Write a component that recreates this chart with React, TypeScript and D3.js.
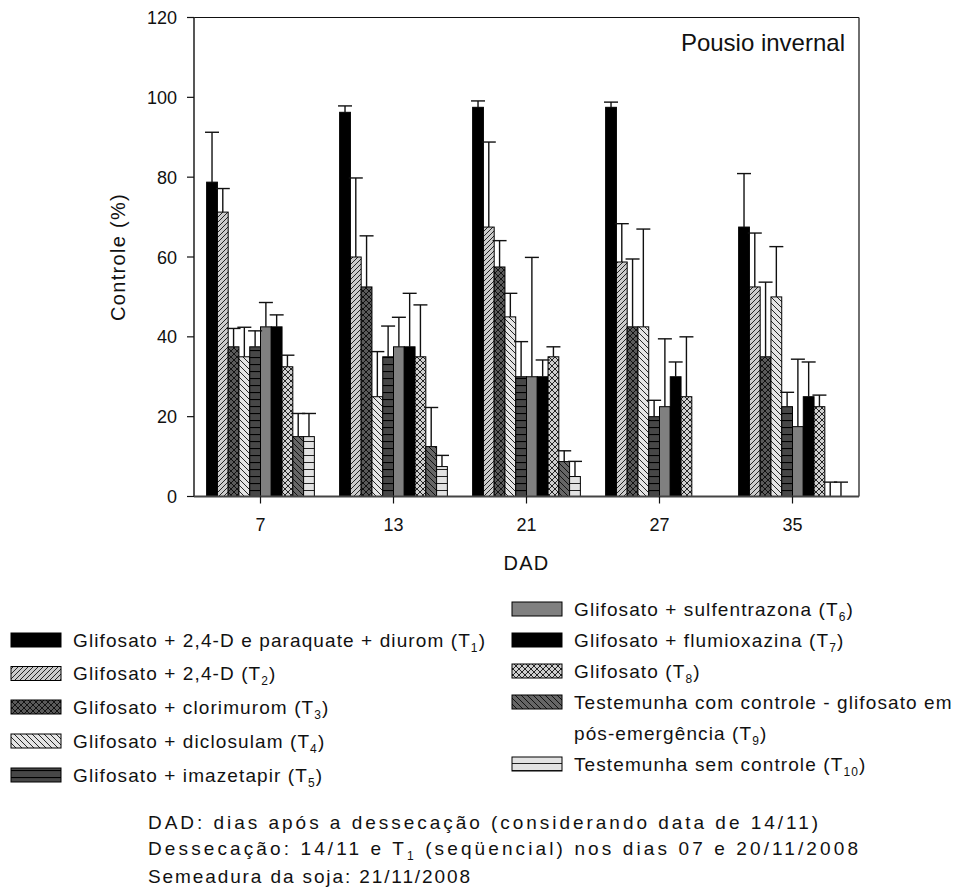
import React from "react";
import * as d3 from "d3";

// Days after desiccation (DAD)
const days = ["7", "13", "21", "27", "35"];

// Treatment labels (main text + subscript index)
const treatmentLabels = [
  "Glifosato + 2,4-D e paraquate + diurom",
  "Glifosato + 2,4-D",
  "Glifosato + clorimurom",
  "Glifosato + diclosulam",
  "Glifosato + imazetapir",
  "Glifosato + sulfentrazona",
  "Glifosato + flumioxazina",
  "Glifosato",
  "Testemunha com controle - glifosato em|pós-emergência",
  "Testemunha sem controle",
];
const treatmentCodes = ["1", "2", "3", "4", "5", "6", "7", "8", "9", "10"];

// Mean control (%) per treatment, one value per DAD
const meanT1 = [78.75, 96.25, 97.5, 97.5, 67.5];
const meanT2 = [71.25, 60, 67.5, 58.75, 52.5];
const meanT3 = [37.5, 52.5, 57.5, 42.5, 35];
const meanT4 = [35, 25, 45, 42.5, 50];
const meanT5 = [37.5, 35, 30, 20, 22.5];
const meanT6 = [42.5, 37.5, 30, 22.5, 17.5];
const meanT7 = [42.5, 37.5, 30, 30, 25];
const meanT8 = [32.5, 35, 35, 25, 22.5];
const meanT9 = [15, 12.5, 8.75, null, 0];
const meanT10 = [15, 7.5, 5, null, 0];

// Standard deviation (upper error bar) per treatment
const sdT1 = [12.5, 1.6, 1.6, 1.3, 13.4];
const sdT2 = [5.9, 19.8, 21.3, 9.6, 13.5];
const sdT3 = [4.6, 12.8, 6.6, 17.0, 18.7];
const sdT4 = [7.4, 11.3, 5.9, 24.5, 12.6];
const sdT5 = [4.0, 7.7, 8.8, 4.1, 3.6];
const sdT6 = [6.1, 7.4, 29.9, 17.0, 16.9];
const sdT7 = [3.0, 13.4, 4.2, 3.7, 8.7];
const sdT8 = [2.9, 13.0, 2.5, 15.0, 2.9];
const sdT9 = [5.8, 9.8, 2.7, null, 3.6];
const sdT10 = [5.8, 2.8, 3.8, null, 3.6];

const yTicks = [0, 20, 40, 60, 80, 100, 120];

const means = [meanT1, meanT2, meanT3, meanT4, meanT5, meanT6, meanT7, meanT8, meanT9, meanT10];
const sds = [sdT1, sdT2, sdT3, sdT4, sdT5, sdT6, sdT7, sdT8, sdT9, sdT10];

const FONT = "'Liberation Sans', Arial, Helvetica, sans-serif";

const fills = [
  "#000000",
  "url(#pT2)",
  "url(#pT3)",
  "url(#pT4)",
  "url(#pT5)",
  "#808080",
  "#000000",
  "url(#pT8)",
  "url(#pT9)",
  "url(#pT10)",
];

function Patterns() {
  return (
    <defs>
      <pattern id="pT2" patternUnits="userSpaceOnUse" width={5} height={5}>
        <rect width={5} height={5} fill="#cccccc" />
        <path d="M0,5 L5,0 M-1,1 L1,-1 M4,6 L6,4" stroke="#111" strokeWidth={0.9} />
      </pattern>
      <pattern id="pT3" patternUnits="userSpaceOnUse" width={6} height={6}>
        <rect width={6} height={6} fill="#5a5a5a" />
        <path d="M0,0 L6,6 M0,6 L6,0" stroke="#111" strokeWidth={1} />
      </pattern>
      <pattern id="pT4" patternUnits="userSpaceOnUse" width={6} height={6}>
        <rect width={6} height={6} fill="#e4e4e4" />
        <path d="M0,0 L6,6 M-1,5 L1,7 M5,-1 L7,1" stroke="#111" strokeWidth={0.9} />
      </pattern>
      <pattern id="pT5" patternUnits="userSpaceOnUse" width={7} height={7}>
        <rect width={7} height={7} fill="#474747" />
        <path d="M0,0.5 L7,0.5" stroke="#000" strokeWidth={1.2} />
      </pattern>
      <pattern id="pT8" patternUnits="userSpaceOnUse" width={6} height={6}>
        <rect width={6} height={6} fill="#cfcfcf" />
        <path d="M0,0 L6,6 M0,6 L6,0" stroke="#111" strokeWidth={0.9} />
      </pattern>
      <pattern id="pT9" patternUnits="userSpaceOnUse" width={6} height={6}>
        <rect width={6} height={6} fill="#666666" />
        <path d="M0,0 L6,6 M-1,5 L1,7 M5,-1 L7,1" stroke="#111" strokeWidth={1} />
      </pattern>
      <pattern id="pT10" patternUnits="userSpaceOnUse" width={7} height={7}>
        <rect width={7} height={7} fill="#e2e2e2" />
        <path d="M0,0.5 L7,0.5" stroke="#222" strokeWidth={1} />
      </pattern>
    </defs>
  );
}

function LegendLabel({ x, y, text, code }: { x: number; y: number; text: string; code: string }) {
  const parts = text.split("|");
  const style = { fontFamily: FONT, fontSize: 19, letterSpacing: 1.1, fill: "#111" } as const;
  return (
    <g>
      {parts.map((p, i) => {
        const last = i === parts.length - 1;
        return (
          <text key={i} x={x} y={y + i * 31} style={style}>
            {last ? p + " (T" : p}
            {last && (
              <tspan dy={5} fontSize={12}>
                {code}
              </tspan>
            )}
            {last && <tspan dy={-5}>)</tspan>}
          </text>
        );
      })}
    </g>
  );
}

export default function App() {
  const W = 971;
  const H = 893;
  const left = 194;
  const right = 859;
  const top = 17.5;
  const bottom = 496.5;

  const x0 = d3.scaleBand<string>().domain(days).range([left, right]).paddingInner(0.19).paddingOuter(0.095);
  const x1 = d3
    .scaleBand<number>()
    .domain(d3.range(means.length))
    .range([0, x0.bandwidth()]);
  const y = d3.scaleLinear().domain([0, 120]).range([bottom, top]);

  const bars: React.ReactNode[] = [];
  const errs: React.ReactNode[] = [];
  means.forEach((series, t) => {
    series.forEach((v, d) => {
      if (v === null) return;
      const bx = (x0(days[d]) as number) + (x1(t) as number);
      const bw = x1.bandwidth();
      bars.push(
        <rect
          key={`b${t}-${d}`}
          x={bx}
          y={y(v)}
          width={bw}
          height={y(0) - y(v)}
          fill={fills[t]}
          stroke="#000"
          strokeWidth={1}
        />
      );
      const s = sds[t][d];
      if (s !== null && s > 0) {
        const cx = bx + bw / 2;
        errs.push(
          <g key={`e${t}-${d}`} stroke="#111" strokeWidth={1.4}>
            <line x1={cx} x2={cx} y1={y(v)} y2={y(v + s)} />
            <line x1={cx - 7} x2={cx + 7} y1={y(v + s)} y2={y(v + s)} />
          </g>
        );
      }
    });
  });

  const leftRows = [640, 673.5, 707, 741, 775];
  const rightRows = [609, 640, 671, 702, 764];

  const legend = treatmentLabels.map((lab, i) => {
    const col = i < 5 ? 0 : 1;
    const row = i % 5;
    const cy = col === 0 ? leftRows[row] : rightRows[row];
    const sx = col === 0 ? 11 : 512;
    const tx = col === 0 ? 73 : 574;
    return (
      <g key={`l${i}`}>
        <rect x={sx} y={cy - 7} width={50} height={14} fill={fills[i]} stroke="#000" strokeWidth={1} />
        <LegendLabel x={tx} y={cy + 6.5} text={lab} code={treatmentCodes[i]} />
      </g>
    );
  });

  const tickStyle = { fontFamily: FONT, fontSize: 18, fill: "#111" } as const;
  const titleStyle = { fontFamily: FONT, fontSize: 20, fill: "#111", letterSpacing: 1.3 } as const;
  const noteStyle = { fontFamily: FONT, fontSize: 19, fill: "#111" } as const;

  return (
    <div style={{ position: "absolute", left: 0, top: 0 }}>
      <svg width={W} height={H} style={{ display: "block", background: "#fff" }}>
        <Patterns />
        {bars}
        {errs}

        {/* frame */}
        <line x1={left - 7} x2={right} y1={top} y2={top} stroke="#111" strokeWidth={1.2} />
        <line x1={right} x2={right} y1={top} y2={bottom} stroke="#333" strokeWidth={1.4} />
        <line x1={left} x2={left} y1={top} y2={bottom} stroke="#444" strokeWidth={1.8} />
        <line x1={left} x2={right} y1={bottom} y2={bottom} stroke="#444" strokeWidth={1.8} />

        {/* y axis */}
        {yTicks.map((t) => (
          <g key={`yt${t}`}>
            <line x1={left - 7} x2={left} y1={y(t)} y2={y(t)} stroke="#111" strokeWidth={1.2} />
            <text x={left - 17} y={y(t) + 6.5} textAnchor="end" style={tickStyle}>
              {t}
            </text>
          </g>
        ))}

        {/* x axis */}
        {days.map((d) => {
          const cx = (x0(d) as number) + x0.bandwidth() / 2;
          return (
            <g key={`xt${d}`}>
              <line x1={cx} x2={cx} y1={bottom} y2={bottom + 7} stroke="#111" strokeWidth={1.2} />
              <text x={cx} y={531} textAnchor="middle" style={tickStyle}>
                {d}
              </text>
            </g>
          );
        })}

        <text x={(left + right) / 2} y={570} textAnchor="middle" style={titleStyle}>
          DAD
        </text>
        <text
          transform={`translate(125, ${(top + bottom) / 2}) rotate(-90)`}
          textAnchor="middle"
          style={titleStyle}
        >
          Controle (%)
        </text>

        <text x={845} y={51} textAnchor="end" style={{ fontFamily: FONT, fontSize: 24, fill: "#111" }}>
          Pousio invernal
        </text>

        {legend}

        {/* notes */}
        <text x={148} y={829} style={noteStyle} textLength={670} lengthAdjust="spacing">
          DAD: dias após a dessecação (considerando data de 14/11)
        </text>
        <text x={148} y={855} style={noteStyle} textLength={710} lengthAdjust="spacing">
          {"Dessecação: 14/11  e T"}
          <tspan dy={5} fontSize={12}>
            1
          </tspan>
          <tspan dy={-5}>{" (seqüencial) nos dias 07 e 20/11/2008"}</tspan>
        </text>
        <text x={148} y={883} style={noteStyle} textLength={322} lengthAdjust="spacing">
          Semeadura da soja: 21/11/2008
        </text>
      </svg>
    </div>
  );
}
